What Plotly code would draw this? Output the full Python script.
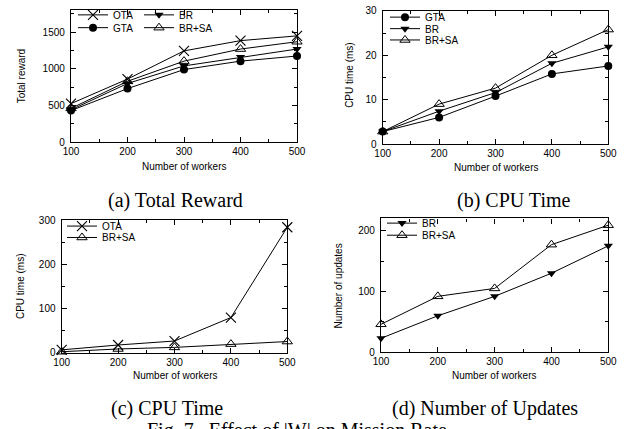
import plotly.graph_objects as go

W, H = 625, 429

workers = [100, 200, 300, 400, 500]
x_ticks = [100, 200, 300, 400, 500]

# (a) Total reward
reward_OTA = [525, 860, 1245, 1385, 1450]
reward_GTA = [430, 730, 990, 1105, 1175]
reward_BR = [440, 800, 1040, 1160, 1270]
reward_BRSA = [460, 830, 1105, 1270, 1370]

# (b) CPU time (ms)
cpu_GTA = [2.8, 6.0, 10.8, 15.8, 17.6]
cpu_BR = [2.8, 7.4, 11.6, 18.2, 21.9]
cpu_BRSA = [2.8, 9.0, 12.6, 20.0, 25.8]

# (c) CPU time (ms)
cpu2_OTA = [7, 18, 27, 80, 284]
cpu2_BRSA = [2.8, 9.0, 12.6, 20.0, 25.8]

# (d) Number of updates
upd_BR = [23, 60, 92, 130, 175]
upd_BRSA = [46, 92, 105, 177, 209]

captions = ["(a) Total Reward", "(b) CPU Time", "(c) CPU Time", "(d) Number of Updates"]
fig_caption = "Fig. 7.  Effect of |W| on Mission Rate"

SANS = "Liberation Sans, Arial, sans-serif"
SERIF = "Liberation Serif, Times New Roman, serif"

STYLE = {
    "OTA": dict(symbol="x-thin-open", size=10, line=dict(width=1.1, color="black"), color="black"),
    "GTA": dict(symbol="circle", size=8, color="black", line=dict(width=0)),
    "BR": dict(symbol="triangle-down", size=8, color="black", line=dict(width=0)),
    "BR+SA": dict(symbol="triangle-up-open", size=9, color="black", line=dict(width=1, color="black")),
}


def px_x(v):
    return v / W


def px_y(v):
    return 1 - v / H


fig = go.Figure()


def add(name, ys, xa, ya, legend):
    fig.add_trace(go.Scatter(
        x=workers, y=ys, name=name, mode="lines+markers",
        line=dict(color="black", width=1),
        marker=STYLE[name], xaxis=xa, yaxis=ya, legend=legend,
        cliponaxis=False, showlegend=True,
    ))


add("OTA", reward_OTA, "x", "y", "legend")
add("GTA", reward_GTA, "x", "y", "legend2")
add("BR", reward_BR, "x", "y", "legend3")
add("BR+SA", reward_BRSA, "x", "y", "legend4")

add("GTA", cpu_GTA, "x2", "y2", "legend5")
add("BR", cpu_BR, "x2", "y2", "legend6")
add("BR+SA", cpu_BRSA, "x2", "y2", "legend7")

add("OTA", cpu2_OTA, "x3", "y3", "legend8")
add("BR+SA", cpu2_BRSA, "x3", "y3", "legend9")

add("BR", upd_BR, "x4", "y4", "legend10")
add("BR+SA", upd_BRSA, "x4", "y4", "legend11")


def xaxis(x0, x1, anchor):
    return dict(domain=[px_x(x0), px_x(x1)], range=[100, 500], tickvals=x_ticks,
                anchor=anchor, showline=True, linecolor="black", linewidth=1.3,
                mirror="allticks", ticks="inside", ticklen=5, tickwidth=1, tickcolor="black",
                minor=dict(ticks="inside", ticklen=3, dtick=50, tick0=100, tickcolor="black", showgrid=False),
                showgrid=False, zeroline=False, automargin=False,
                tickfont=dict(family=SANS, size=10, color="black"))


def yaxis(y_top, y_bot, rng, dtick, mdtick, anchor):
    return dict(domain=[px_y(y_bot), px_y(y_top)], range=rng, dtick=dtick, tick0=0,
                anchor=anchor, showline=True, linecolor="black", linewidth=1.3,
                mirror="allticks", ticks="inside", ticklen=5, tickwidth=1, tickcolor="black",
                minor=dict(ticks="inside", ticklen=3, dtick=mdtick, tick0=0, tickcolor="black", showgrid=False),
                showgrid=False, zeroline=False, ticklabelstandoff=3, automargin=False,
                tickfont=dict(family=SANS, size=10, color="black"))


fig.update_layout(
    template="none",
    width=W, height=H, margin=dict(l=0, r=0, t=0, b=0, pad=0), autosize=False,
    paper_bgcolor="white", plot_bgcolor="white",
    xaxis=xaxis(71, 297, "y"),
    yaxis=yaxis(3.3, 137.3, [0, 1800], 500, 250, "x"),
    xaxis2=xaxis(382.7, 608.3, "y2"),
    yaxis2=yaxis(4, 139.3, [0, 30], 10, 5, "x2"),
    xaxis3=xaxis(61.7, 287.3, "y3"),
    yaxis3=yaxis(216.7, 351.7, [0, 300], 100, 50, "x3"),
    xaxis4=xaxis(381, 608.3, "y4"),
    yaxis4=yaxis(215, 351, [0, 220], 100, 50, "x4"),
)

# legends: (name, item start x px, item centre y px)
legend_pos = [
    ("legend", 73, 8), ("legend2", 73, 21), ("legend3", 139, 8), ("legend4", 139, 21),
    ("legend5", 385, 10.3), ("legend6", 385, 22), ("legend7", 385, 33.5),
    ("legend8", 62, 222.7), ("legend9", 62, 234.3),
    ("legend10", 382, 219.7), ("legend11", 382, 232),
]
for key, lx, ly in legend_pos:
    fig.update_layout(**{key: dict(
        x=px_x(lx), y=px_y(ly), xanchor="left", yanchor="middle",
        bgcolor="rgba(0,0,0,0)", borderwidth=0, itemwidth=30,
        font=dict(family=SANS, size=10, color="black"),
    )})

ann = []
# axis titles
for text, x, y in [("Number of workers", 184, 162), ("Number of workers", 496, 163),
                   ("Number of workers", 174.5, 375), ("Number of workers", 494, 375)]:
    ann.append(dict(text=text, x=px_x(x), y=px_y(y), xref="paper", yref="paper",
                    xanchor="center", yanchor="middle", showarrow=False,
                    font=dict(family=SANS, size=10, color="black")))
for text, x, y in [("Total reward", 21, 70.5), ("CPU time (ms)", 350, 69),
                   ("CPU time (ms)", 20.7, 284), ("Number of updates", 338, 283)]:
    ann.append(dict(text=text, x=px_x(x), y=px_y(y), xref="paper", yref="paper",
                    xanchor="center", yanchor="middle", showarrow=False, textangle=-90,
                    font=dict(family=SANS, size=10, color="black")))
# sub-figure captions
for text, x, y in zip(captions, [175, 513, 167, 485], [197, 197, 408, 408]):
    ann.append(dict(text=text, x=px_x(x), y=px_y(y), xref="paper", yref="paper",
                    xanchor="center", yanchor="middle", showarrow=False,
                    font=dict(family=SERIF, size=20, color="black")))
ann.append(dict(text=fig_caption, x=px_x(145), y=px_y(417), xref="paper", yref="paper",
                xanchor="left", yanchor="top", showarrow=False,
                font=dict(family=SERIF, size=20, color="black")))
fig.update_layout(annotations=ann)

fig.write_html("out.html", config={"displayModeBar": False},
               post_script="document.body.style.margin='0';document.body.style.overflow='hidden';")
